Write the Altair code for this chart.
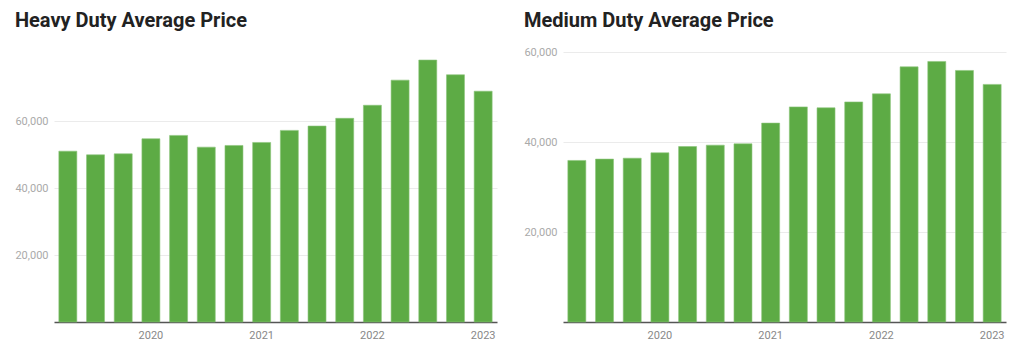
import altair as alt
import pandas as pd

quarters = ["2019 Q2", "2019 Q3", "2019 Q4", "2020 Q1", "2020 Q2", "2020 Q3", "2020 Q4",
            "2021 Q1", "2021 Q2", "2021 Q3", "2021 Q4", "2022 Q1", "2022 Q2", "2022 Q3",
            "2022 Q4", "2023 Q1"]
heavy = [51000, 49900, 50200, 54700, 55700, 52200, 52700, 53600, 57200, 58500,
         60800, 64700, 72200, 78200, 73800, 68900]
medium = [35900, 36200, 36400, 37600, 39000, 39300, 39600, 44200, 47800, 47600,
          48900, 50700, 56700, 57900, 55900, 52800]
y_ticks = [20000, 40000, 60000]

BAR = "#5dab45"
FONT = "Roboto"


def panel(values, title, ymax, offset):
    df = pd.DataFrame({"quarter": quarters, "price": values})
    return alt.Chart(df, title=alt.TitleParams(
        title, anchor="start", frame="bounds", fontSize=20, fontWeight="bold",
        color="#222222", font=FONT, offset=offset)).mark_bar(
        color=BAR, stroke="#8cc47a", strokeWidth=0.6
    ).encode(
        x=alt.X("quarter:O", sort=quarters, title=None,
                scale=alt.Scale(paddingInner=0.35, paddingOuter=0.175),
                axis=alt.Axis(labelAngle=0, ticks=False, domainColor="#555555",
                              domainWidth=1.5, labelColor="#888888", labelFontSize=11,
                              labelFont=FONT, labelPadding=7, grid=False,
                              labelExpr="indexof(datum.label, 'Q1') >= 0 ? slice(datum.label, 0, 4) : ''")),
        y=alt.Y("price:Q", title=None,
                scale=alt.Scale(domain=[0, ymax], nice=False),
                axis=alt.Axis(values=y_ticks, format=",.0f", ticks=False, domain=False,
                              labelColor="#aaaaaa", labelFontSize=11, labelFont=FONT,
                              labelPadding=6, gridColor="#ebebeb")),
    ).properties(width=443, height=270)


left = panel(heavy, "Heavy Duty Average Price", 80600, 21)
right = panel(medium, "Medium Duty Average Price", 60000, 15)

chart = alt.hconcat(left, right, spacing=26).properties(
    padding={"left": 14, "top": 11, "right": 10, "bottom": 5}
).configure_view(stroke=None)

chart.save("out.html", embed_options={"renderer": "svg", "actions": False})
